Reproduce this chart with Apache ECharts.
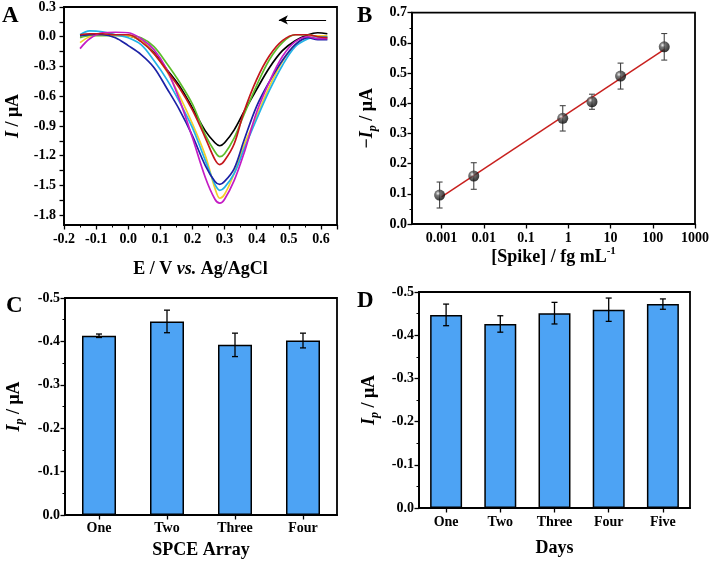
<!DOCTYPE html>
<html><head><meta charset="utf-8">
<script src="https://cdn.jsdelivr.net/npm/echarts@6/dist/echarts.min.js"></script>
<style>html,body{margin:0;padding:0;background:#fff}#c{width:712px;height:563px}</style>
</head><body><div id="c"></div>
<script>
// ---------- Panel A: DPV curves ----------
const cvPotential = [-0.15,-0.12,-0.08,-0.04,0.00,0.04,0.08,0.12,0.16,0.20,0.24,0.27,0.285,0.30,0.33,0.36,0.40,0.44,0.48,0.52,0.56,0.59,0.62];
const cvBlack   = [0.01,0.02,0.02,0.02,0.01,-0.04,-0.16,-0.33,-0.50,-0.72,-0.95,-1.07,-1.10,-1.07,-0.94,-0.76,-0.53,-0.31,-0.14,-0.04,0.02,0.04,0.03];
const cvGreen   = [-0.01,0.01,0.01,0.01,0.01,-0.01,-0.10,-0.27,-0.46,-0.68,-0.99,-1.16,-1.21,-1.18,-1.02,-0.79,-0.49,-0.23,-0.06,0.02,0.02,0.00,-0.01];
const cvRed     = [0.02,0.03,0.03,0.02,0.02,-0.05,-0.17,-0.34,-0.52,-0.74,-1.02,-1.24,-1.29,-1.25,-1.08,-0.76,-0.43,-0.19,-0.04,0.02,0.02,0.00,-0.01];
const cvBlue    = [0.01,0.02,0.02,-0.01,-0.09,-0.18,-0.31,-0.52,-0.74,-1.00,-1.30,-1.46,-1.49,-1.46,-1.33,-1.05,-0.70,-0.45,-0.24,-0.08,-0.01,-0.03,-0.03];
const cvCyan    = [0.02,0.06,0.05,0.02,-0.01,-0.08,-0.24,-0.43,-0.66,-0.92,-1.25,-1.49,-1.55,-1.52,-1.38,-1.14,-0.83,-0.54,-0.29,-0.10,-0.02,0.00,0.00];
const cvYellow  = [-0.06,0.00,0.02,0.02,0.01,-0.04,-0.17,-0.35,-0.60,-0.88,-1.20,-1.53,-1.63,-1.59,-1.38,-1.10,-0.80,-0.50,-0.25,-0.08,0.00,0.01,0.01];
const cvMagenta = [-0.12,-0.02,0.04,0.045,0.04,-0.02,-0.13,-0.33,-0.64,-1.02,-1.42,-1.64,-1.68,-1.64,-1.45,-1.18,-0.76,-0.45,-0.20,-0.05,0.00,-0.02,-0.02];
const yTickLabelsA = [-1.8,-1.5,-1.2,-0.9,-0.6,-0.3,0.0,0.3];
const arrowA = [[0.616,0.17],[0.469,0.17]];

// ---------- Panel B: calibration ----------
const spikeConc = [0.0009, 0.0058, 0.74, 3.64, 17.3, 187];
const spikeIp   = [0.096, 0.159, 0.350, 0.405, 0.490, 0.587];
const spikeErr  = [0.043, 0.044, 0.042, 0.025, 0.043, 0.044];
const fitLine   = [[0.001, 0.090], [185, 0.578]];

// ---------- Panel C: SPCE array ----------
const arrayLabels = ['One','Two','Three','Four'];
const arrayIp  = [-0.413, -0.446, -0.392, -0.402];
const arrayErr = [0.004, 0.026, 0.027, 0.017];

// ---------- Panel D: days ----------
const dayLabels = ['One','Two','Three','Four','Five'];
const dayIp  = [-0.447, -0.426, -0.451, -0.459, -0.472];
const dayErr = [0.025, 0.019, 0.025, 0.027, 0.012];

const FONT = 'Liberation Serif';
const lbl = (margin) => ({color:'#000', fontFamily:FONT, fontWeight:'bold', fontSize:14, margin:margin});
const axLine = {show:true, onZero:false, lineStyle:{color:'#000', width:1.8}};
const tick = {show:true, length:4.5, lineStyle:{color:'#000', width:1.3}};
const minor = {show:true, splitNumber:2, length:2.5, lineStyle:{color:'#000', width:1}};
const nameStyle = {color:'#000', fontFamily:FONT, fontWeight:'bold', fontSize:18,
  rich:{
    m:{fontFamily:FONT, fontWeight:'bold', fontSize:18, color:'#000', lineHeight:23},
    i:{fontFamily:FONT, fontWeight:'bold', fontStyle:'italic', fontSize:18, color:'#000', lineHeight:23},
    s:{fontFamily:FONT, fontWeight:'bold', fontStyle:'italic', fontSize:12, color:'#000', verticalAlign:'bottom', lineHeight:23},
    u:{fontFamily:FONT, fontWeight:'bold', fontSize:11, color:'#000', verticalAlign:'top', lineHeight:23}
  }};
const fmt1 = v => (Math.abs(v) < 1e-9 ? 0 : v).toFixed(1);

function errRender(capHalf, color, width){
  return function(params, api){
    const x = api.value(0), lo = api.value(1), hi = api.value(2);
    const p1 = api.coord([x, lo]), p2 = api.coord([x, hi]);
    const st = {stroke:color, lineWidth:width};
    return {type:'group', children:[
      {type:'line', shape:{x1:p1[0], y1:p1[1], x2:p2[0], y2:p2[1]}, style:st},
      {type:'line', shape:{x1:p1[0]-capHalf, y1:p1[1], x2:p1[0]+capHalf, y2:p1[1]}, style:st},
      {type:'line', shape:{x1:p2[0]-capHalf, y1:p2[1], x2:p2[0]+capHalf, y2:p2[1]}, style:st}
    ]};
  };
}

const minorTicksA = [];
for (let k = -12; k <= 2; k++) minorTicksA.push(+(k*0.15).toFixed(2));

const curveDefs = [
  [cvBlack,'#000000'],[cvGreen,'#5cbd2b'],[cvYellow,'#f3d02a'],[cvCyan,'#22b2e6'],
  [cvBlue,'#1c22a6'],[cvMagenta,'#c41cc4'],[cvRed,'#c3161c']
];
const seriesA = curveDefs.map(([ys, col], idx) => ({
  type:'line', xAxisIndex:0, yAxisIndex:0, showSymbol:false, smooth:0.35, silent:true,
  data: cvPotential.map((x,i)=>[x, ys[i]]),
  lineStyle:{color:col, width:1.7}, itemStyle:{color:col}, z:2+idx,
  markLine: idx===0 ? {silent:true, symbol:['none','arrow'], symbolSize:[7,9],
    label:{show:false}, lineStyle:{color:'#000', width:1.1, type:'solid'},
    data:[[{coord:arrowA[0]},{coord:arrowA[1]}]]} : undefined
}));

const gridBase = {show:true, borderColor:'#000', borderWidth:1.8};
const option = {
  animation:false,
  backgroundColor:'#fff',
  grid:[
    Object.assign({left:64, top:6, width:273, height:219}, gridBase),
    Object.assign({left:412, top:12.7, width:287, height:211.3}, gridBase),
    Object.assign({left:65, top:298, width:272, height:217}, gridBase),
    Object.assign({left:419, top:292, width:271, height:216}, gridBase)
  ],
  xAxis:[
    {gridIndex:0, type:'value', min:-0.2, max:0.65, interval:0.1,
     axisLine:axLine, axisTick:tick, minorTick:minor, splitLine:{show:false}, minorSplitLine:{show:false},
     axisLabel:Object.assign(lbl(7), {formatter:fmt1, showMaxLabel:false}),
     name:'E / V {i|vs.} Ag/AgCl', nameLocation:'middle', nameGap:33, nameTextStyle:nameStyle},
    {gridIndex:1, type:'log', logBase:10, min:0.0002, max:1000,
     axisLine:axLine, axisTick:tick, splitLine:{show:false},
     axisLabel:Object.assign(lbl(7), {showMinLabel:false, formatter:v => String(+(+v).toPrecision(3))}),
     name:'[Spike] / fg mL{u|-1}', nameLocation:'middle', nameGap:21, nameTextStyle:nameStyle},
    {gridIndex:2, type:'category', data:arrayLabels,
     axisLine:axLine, axisTick:Object.assign({}, tick, {alignWithLabel:true}), splitLine:{show:false},
     axisLabel:lbl(6),
     name:'SPCE Array', nameLocation:'middle', nameGap:26, nameTextStyle:nameStyle},
    {gridIndex:3, type:'category', data:dayLabels,
     axisLine:axLine, axisTick:Object.assign({}, tick, {alignWithLabel:true}), splitLine:{show:false},
     axisLabel:lbl(7),
     name:'Days', nameLocation:'middle', nameGap:31, nameTextStyle:nameStyle}
  ],
  yAxis:[
    {gridIndex:0, type:'value', min:-1.9, max:0.3,
     axisLine:axLine, axisTick:Object.assign({}, tick, {customValues:minorTicksA}), splitLine:{show:false},
     axisLabel:Object.assign(lbl(8), {customValues:yTickLabelsA, formatter:fmt1}),
     name:'{i|I} / μA', nameLocation:'middle', nameGap:39, nameTextStyle:nameStyle},
    {gridIndex:1, type:'value', min:0, max:0.7, interval:0.1,
     axisLine:axLine, axisTick:tick, minorTick:minor, splitLine:{show:false}, minorSplitLine:{show:false},
     axisLabel:Object.assign(lbl(5), {formatter:fmt1}),
     name:'{m|−}{i|I}{s|p}{m| / μA}', nameLocation:'middle', nameGap:33, nameTextStyle:nameStyle},
    {gridIndex:2, type:'value', min:-0.5, max:0, interval:0.1, inverse:true,
     axisLine:axLine, axisTick:tick, minorTick:minor, splitLine:{show:false}, minorSplitLine:{show:false},
     axisLabel:Object.assign(lbl(5), {formatter:fmt1}),
     name:'{i|I}{s|p}{m| / μA}', nameLocation:'middle', nameGap:39, nameTextStyle:nameStyle},
    {gridIndex:3, type:'value', min:-0.5, max:0, interval:0.1, inverse:true,
     axisLine:axLine, axisTick:tick, minorTick:minor, splitLine:{show:false}, minorSplitLine:{show:false},
     axisLabel:Object.assign(lbl(5), {formatter:fmt1}),
     name:'{i|I}{s|p}{m| / μA}', nameLocation:'middle', nameGap:38, nameTextStyle:nameStyle}
  ],
  graphic:[
    {type:'text', left:2, top:5, style:{text:'A', font:'bold 23px "Liberation Serif"', fill:'#000'}},
    {type:'text', left:357, top:5, style:{text:'B', font:'bold 23px "Liberation Serif"', fill:'#000'}},
    {type:'text', left:6, top:295, style:{text:'C', font:'bold 23px "Liberation Serif"', fill:'#000'}},
    {type:'text', left:357, top:290, style:{text:'D', font:'bold 23px "Liberation Serif"', fill:'#000'}}
  ],
  series: seriesA.concat([
    {type:'custom', xAxisIndex:1, yAxisIndex:1, silent:true, z:3,
     renderItem:errRender(3, '#444', 1.1), encode:{x:0, y:[1,2]},
     data: spikeConc.map((c,i)=>[c, spikeIp[i]-spikeErr[i], spikeIp[i]+spikeErr[i]])},
    {type:'line', xAxisIndex:1, yAxisIndex:1, showSymbol:false, silent:true, z:4,
     data: fitLine, lineStyle:{color:'#c8201e', width:1.5}},
    {type:'scatter', xAxisIndex:1, yAxisIndex:1, silent:true, z:5, symbolSize:11,
     data: spikeConc.map((c,i)=>[c, spikeIp[i]]),
     itemStyle:{color:{type:'radial', x:0.35, y:0.35, r:0.7, colorStops:[
       {offset:0, color:'#f0f0f0'},{offset:0.3, color:'#555'},{offset:1, color:'#000'}]}}},
    {type:'bar', xAxisIndex:2, yAxisIndex:2, barWidth:'50%', silent:true, z:2,
     data: arrayIp, itemStyle:{color:'#4da3f4', borderColor:'#000', borderWidth:1.5}},
    {type:'custom', xAxisIndex:2, yAxisIndex:2, silent:true, z:5,
     renderItem:errRender(3, '#000', 1.3), encode:{x:0, y:[1,2]},
     data: arrayIp.map((v,i)=>[i, v-arrayErr[i], v+arrayErr[i]])},
    {type:'bar', xAxisIndex:3, yAxisIndex:3, barWidth:'59%', silent:true, z:2,
     data: dayIp, itemStyle:{color:'#4da3f4', borderColor:'#000', borderWidth:1.5}},
    {type:'custom', xAxisIndex:3, yAxisIndex:3, silent:true, z:5,
     renderItem:errRender(3, '#000', 1.3), encode:{x:0, y:[1,2]},
     data: dayIp.map((v,i)=>[i, v-dayErr[i], v+dayErr[i]])}
  ])
};
const chart = echarts.init(document.getElementById('c'), null, {renderer:'canvas'});
chart.setOption(option);
</script>
</body></html>
